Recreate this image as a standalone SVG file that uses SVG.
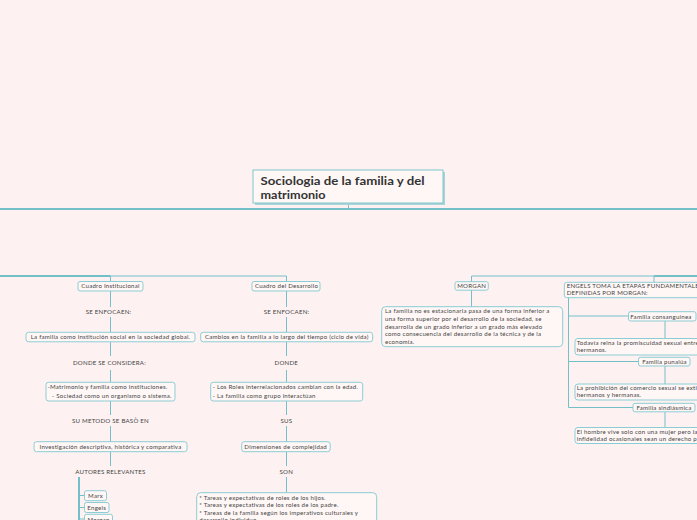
<svg xmlns="http://www.w3.org/2000/svg" width="697" height="520" viewBox="0 0 697 520">
<style>
.bg{fill:#fdf2f1}
.box{fill:#fff7f6;stroke:#8ccdd4;stroke-width:1}
.ln{fill:none;stroke:#74c0c9;stroke-width:1}
.thick{fill:none;stroke:#74c0c9;stroke-width:2}
.t{font-family:Lato,"Noto Sans",sans-serif;font-size:6.1px;letter-spacing:0.24px;fill:#444}
.c{text-anchor:middle}
.title{font-family:Lato,"Noto Sans",sans-serif;font-size:11px;font-weight:bold;fill:#333}
</style>
<rect class="bg" x="0" y="0" width="697" height="520"/>

<g id="connectors">
  <line class="ln" x1="348.5" y1="203" x2="348.5" y2="209"/>
  <line class="thick" x1="0" y1="209" x2="697" y2="209"/>
  <line class="thick" x1="0" y1="276" x2="110.5" y2="276"/>
  <line class="ln" x1="110.5" y1="276" x2="286.5" y2="276"/>
  <line class="ln" x1="110.5" y1="276" x2="110.5" y2="281"/>
  <line class="ln" x1="286.5" y1="276" x2="286.5" y2="281"/>
  <line class="ln" x1="471.5" y1="276" x2="654" y2="276"/>
  <line class="thick" x1="654" y1="276" x2="697" y2="276"/>
  <line class="ln" x1="471.5" y1="276" x2="471.5" y2="282"/>
  <line class="ln" x1="654" y1="276" x2="654" y2="282"/>
  <path class="ln" d="M110.5 291V307M110.5 317V332M110.5 342V356M110.5 370V382M110.5 401V415M110.5 426V442M110.5 452V466"/>
  <line class="thick" x1="79" y1="477" x2="79" y2="520"/>
  <path class="ln" d="M79 495.5H84.5M79 507.5H84.5M79 519H84.5"/>
  <path class="ln" d="M286.5 291V307M286.5 317V332M286.5 342V356M286.5 370V382M286.5 401V415M286.5 426V442M286.5 452V466M286.5 477V493"/>
  <line class="ln" x1="471.5" y1="290" x2="471.5" y2="307"/>
  <path class="ln" d="M568.5 298V407.5M568.5 316H628.5M568.5 361.5H638.5M568.5 407.5H633"/>
  <path class="ln" d="M665 321V338.5M665 366V384M665 412V427.5"/>
</g>

<g id="title">
  <rect x="255" y="172" width="190" height="33" fill="#a9d4d8"/>
  <rect x="253" y="170" width="190" height="33" fill="#fff7f6" stroke="#7fc6cd" stroke-width="1"/>
  <text class="title" x="260.5" y="185" textLength="164" lengthAdjust="spacingAndGlyphs">Sociologia de la familia y del</text>
  <text class="title" x="260.5" y="199" textLength="65" lengthAdjust="spacingAndGlyphs">matrimonio</text>
</g>

<g id="cuadro-institucional">
  <rect class="box" x="78" y="281.5" width="65" height="9.5" rx="2"/>
  <text class="t c" x="110.5" y="288.4">Cuadro Institucional</text>
</g>
<g id="se-enfocan-1"><text class="t c" x="108.5" y="314.4">SE ENFOCAEN:</text></g>
<g id="familia-institucion">
  <rect class="box" x="26" y="332.3" width="169" height="9.5" rx="2.5"/>
  <text class="t c" x="110.5" y="339.3">La familia como institución social en la sociedad global.</text>
</g>
<g id="donde-considera"><text class="t c" x="109.5" y="365.4">DONDE SE CONSIDERA:</text></g>
<g id="matrimonio-familia">
  <rect class="box" x="46" y="382.3" width="129" height="18.7" rx="2.5"/>
  <text class="t" x="47.5" y="388.9">-Matrimonio y familia como instituciones.</text>
  <text class="t" x="52" y="397.9"> - Sociedad como un organismo o sistema.</text>
</g>
<g id="metodo"><text class="t c" x="110.5" y="422.8">SU METODO SE BASÒ EN</text></g>
<g id="investigacion">
  <rect class="box" x="34" y="441.7" width="153" height="10" rx="2.5"/>
  <text class="t c" x="110.5" y="448.9">Investigación descriptiva, histórica y comparativa</text>
</g>
<g id="autores"><text class="t c" x="110.5" y="473.8">AUTORES RELEVANTES</text></g>
<g id="marx">
  <rect class="box" x="84.5" y="490.7" width="22" height="10" rx="2"/>
  <text class="t c" x="95.5" y="497.9">Marx</text>
</g>
<g id="engels">
  <rect class="box" x="84.5" y="502.5" width="24.5" height="10" rx="2"/>
  <text class="t c" x="96.7" y="509.7">Engels</text>
</g>
<g id="morgan-autor">
  <rect class="box" x="84.5" y="514.3" width="28" height="10" rx="2"/>
  <text class="t c" x="98.5" y="521.5">Morgan</text>
</g>

<g id="cuadro-desarrollo">
  <rect class="box" x="252" y="281.5" width="68" height="9.5" rx="2"/>
  <text class="t c" x="286.5" y="288.4">Cuadro del Desarrollo</text>
</g>
<g id="se-enfocan-2"><text class="t c" x="286.5" y="314.4">SE ENFOCAEN:</text></g>
<g id="cambios">
  <rect class="box" x="200.7" y="332.3" width="172" height="9.5" rx="2.5"/>
  <text class="t c" x="286.8" y="339.3">Cambios en la familia a lo largo del tiempo (ciclo de vida)</text>
</g>
<g id="donde"><text class="t c" x="286.3" y="365.4">DONDE</text></g>
<g id="roles">
  <rect class="box" x="210.7" y="382.3" width="152" height="18.7" rx="2.5"/>
  <text class="t" x="212.7" y="389.4">- Los Roles interrelacionados cambian con la edad.</text>
  <text class="t" x="212.7" y="398.1">- La familia como grupo interactúan</text>
</g>
<g id="sus"><text class="t c" x="286.3" y="422.8">SUS</text></g>
<g id="dimensiones">
  <rect class="box" x="241.7" y="441.7" width="88.5" height="10" rx="2.5"/>
  <text class="t c" x="285.7" y="448.9">Dimensiones de complejidad</text>
</g>
<g id="son"><text class="t c" x="286.3" y="473.8">SON</text></g>
<g id="tareas">
  <rect class="box" x="196.7" y="492.7" width="180" height="40" rx="4"/>
  <text class="t" x="199.3" y="500.4">* Tareas y expectativas de roles de los hijos.</text>
  <text class="t" x="199.3" y="507.2">* Tareas y expectativas de los roles de los padre.</text>
  <text class="t" x="199.3" y="515.4">* Tareas de la familia según los imperativos culturales y</text>
  <text class="t" x="199.3" y="521.8">desarrollo individuo</text>
</g>

<g id="morgan">
  <rect class="box" x="455" y="281.7" width="33.3" height="8.5" rx="2"/>
  <text class="t c" x="471.7" y="288.1">MORGAN</text>
</g>
<g id="familia-no-estacionaria">
  <rect class="box" x="381.7" y="306.7" width="181" height="40" rx="4"/>
  <text class="t" x="385" y="313.2">La familia no es estacionaria pasa de una forma inferior a</text>
  <text class="t" x="385" y="320.7">una forma superior por el desarrollo de la sociedad, se</text>
  <text class="t" x="385" y="328.8">desarrolla de un grado inferior a un grado más elevado</text>
  <text class="t" x="385" y="336.4">como consecuencia del desarrollo de la técnica y de la</text>
  <text class="t" x="385" y="343.9">economía.</text>
</g>

<g id="engels-etapas">
  <rect class="box" x="564.3" y="282.3" width="140" height="15.4" rx="2.5"/>
  <text class="t" x="566.7" y="287.9">ENGELS TOMA LA ETAPAS FUNDAMENTALES</text>
  <text class="t" x="566.7" y="295.4">DEFINIDAS POR MORGAN:</text>
</g>
<g id="familia-consanguinea">
  <rect class="box" x="628.5" y="311.7" width="67.5" height="9.3" rx="2"/>
  <text class="t c" x="661" y="318.5">Familia consanguínea</text>
</g>
<g id="promiscuidad">
  <rect class="box" x="575" y="338.5" width="140" height="16.5" rx="3"/>
  <text class="t" x="576.7" y="344.8">Todavía reina la promiscuidad sexual entre</text>
  <text class="t" x="576.7" y="352.1">hermanos.</text>
</g>
<g id="familia-punalua">
  <rect class="box" x="638.5" y="357.3" width="51.5" height="8.7" rx="2"/>
  <text class="t c" x="664.5" y="363.9">Familia punalúa</text>
</g>
<g id="prohibicion">
  <rect class="box" x="575" y="384" width="140" height="16" rx="3"/>
  <text class="t" x="576.7" y="389.8">La prohibición del comercio sexual se extiende a</text>
  <text class="t" x="576.7" y="397.1">hermanos y hermanas.</text>
</g>
<g id="familia-sindiasmica">
  <rect class="box" x="633" y="403.3" width="62" height="8.5" rx="2"/>
  <text class="t c" x="664" y="409.9">Familia sindiásmica</text>
</g>
<g id="hombre">
  <rect class="box" x="575" y="427.5" width="140" height="16" rx="3"/>
  <text class="t" x="576.7" y="433.8">El hombre vive solo con una mujer pero la</text>
  <text class="t" x="576.7" y="441.4">infidelidad ocasionales sean un derecho para</text>
</g>
</svg>
